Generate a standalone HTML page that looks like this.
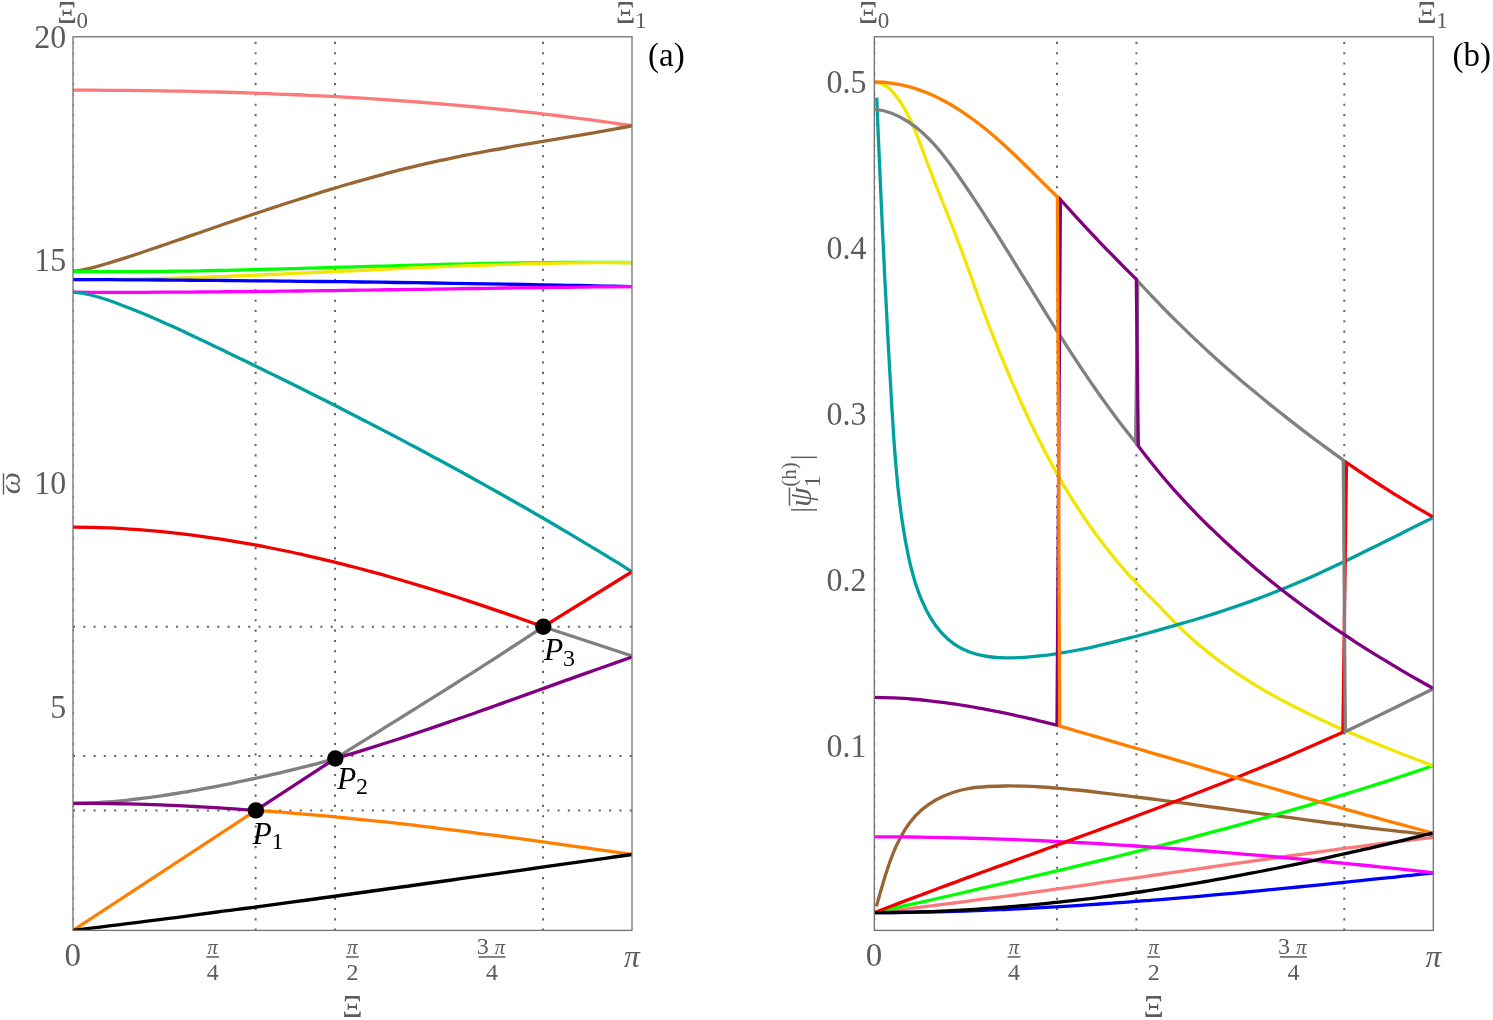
<!DOCTYPE html>
<html lang="en"><head><meta charset="utf-8"><title>Dispersion curves</title>
<style>html,body{margin:0;padding:0;background:#fff}svg{display:block}text{font-family:"Liberation Serif","DejaVu Serif",serif;fill:#5c5c5c}.i{font-style:italic}.k{fill:#000}.c{fill:none;stroke-width:3.3;stroke-linejoin:miter;stroke-miterlimit:10;stroke-linecap:butt}.d{stroke:#666666;stroke-width:2;stroke-dasharray:2.1 8.211;fill:none}.f{fill:none;stroke:#707070;stroke-width:1.3}</style></head><body>
<svg width="1493" height="1020" viewBox="0 0 1493 1020">
<rect width="1493" height="1020" fill="#fff"/>
<clipPath id="c1"><rect x="73.0" y="36.8" width="559.0" height="893.6"/></clipPath>
<g clip-path="url(#c1)">
<path class="d" d="M73.0 930.7V36.8"/>
<path class="d" d="M255.6 930.7V36.8"/>
<path class="d" d="M335.0 930.7V36.8"/>
<path class="d" d="M543.0 930.7V36.8"/>
<path class="d" d="M72.9 626.7H632.0"/>
<path class="d" d="M72.9 756.1H632.0"/>
<path class="d" d="M72.9 810.4H632.0"/>
<path class="c" stroke="#f97b7b" d="M73.0 90.2C79.0 90.2 85.1 90.2 91.1 90.2C97.1 90.2 103.1 90.3 109.2 90.3C115.2 90.3 121.2 90.4 127.2 90.4C133.3 90.5 139.3 90.5 145.3 90.6C151.4 90.7 157.4 90.8 163.4 90.9C169.4 91.0 175.5 91.1 181.5 91.2C187.5 91.3 193.6 91.4 199.6 91.6C205.6 91.7 211.6 91.8 217.7 92.0C223.7 92.2 229.7 92.3 235.7 92.5C241.8 92.7 247.8 92.9 253.8 93.1C259.8 93.3 265.9 93.5 271.9 93.8C277.9 94.0 283.9 94.2 290.0 94.5C296.0 94.7 302.0 95.0 308.0 95.3C314.1 95.6 320.1 95.9 326.1 96.2C332.1 96.5 338.1 96.8 344.2 97.2C350.2 97.5 356.2 97.9 362.2 98.2C368.2 98.6 374.2 99.0 380.3 99.4C386.3 99.8 392.3 100.2 398.3 100.6C404.3 101.0 410.3 101.5 416.3 101.9C422.3 102.4 428.3 102.8 434.4 103.3C440.4 103.8 446.4 104.3 452.4 104.8C458.4 105.4 464.4 105.9 470.4 106.5C476.4 107.0 482.4 107.6 488.4 108.2C494.4 108.8 500.4 109.4 506.4 110.0C512.4 110.6 518.4 111.2 524.4 111.9C530.3 112.5 536.3 113.2 542.3 113.9C548.3 114.6 554.3 115.3 560.3 116.0C566.3 116.8 572.3 117.5 578.2 118.3C584.2 119.1 590.2 119.8 596.2 120.6C602.1 121.4 608.1 122.3 614.1 123.1C620.1 124.0 626.0 124.8 632.0 125.7"/>
<path class="c" stroke="#996633" d="M73.0 271.5C79.0 270.7 84.9 269.5 90.8 268.1C96.6 266.7 102.4 265.1 108.1 263.3C113.9 261.6 119.6 259.7 125.4 257.9C131.1 256.0 136.8 254.1 142.5 252.2C148.2 250.3 154.0 248.3 159.7 246.4C165.4 244.5 171.1 242.5 176.8 240.5C182.5 238.6 188.2 236.6 193.9 234.6C199.6 232.7 205.3 230.7 211.0 228.7C216.7 226.8 222.4 224.8 228.1 222.8C233.8 220.9 239.5 218.9 245.2 217.0C251.0 215.1 256.7 213.1 262.4 211.2C268.1 209.3 273.9 207.4 279.6 205.5C285.3 203.7 291.1 201.8 296.8 200.0C302.6 198.1 308.3 196.3 314.1 194.5C319.8 192.7 325.6 190.9 331.4 189.2C337.1 187.4 342.9 185.7 348.7 184.0C354.5 182.3 360.3 180.7 366.1 179.1C371.9 177.4 377.7 175.8 383.5 174.3C389.3 172.7 395.2 171.2 401.0 169.7C406.8 168.3 412.7 166.8 418.6 165.4C424.4 164.0 430.3 162.7 436.2 161.4C442.1 160.0 448.0 158.8 453.9 157.6C459.8 156.3 465.7 155.2 471.6 154.0C477.5 152.9 483.5 151.8 489.4 150.7C495.3 149.6 501.3 148.5 507.2 147.5C513.2 146.4 519.1 145.4 525.1 144.4C531.0 143.4 537.0 142.4 542.9 141.4C548.9 140.4 554.8 139.4 560.8 138.4C566.7 137.4 572.7 136.4 578.6 135.4C584.6 134.4 590.5 133.3 596.5 132.3C602.4 131.2 608.3 130.2 614.3 129.1C620.2 128.0 626.1 126.9 632.0 125.7"/>
<path class="c" stroke="#00ff00" d="M73.0 271.5C79.0 271.6 85.0 271.6 91.0 271.6C97.1 271.7 103.1 271.7 109.1 271.7C115.1 271.7 121.1 271.7 127.1 271.7C133.1 271.6 139.1 271.6 145.1 271.6C151.2 271.5 157.2 271.4 163.2 271.4C169.2 271.3 175.2 271.2 181.2 271.1C187.2 271.1 193.2 271.0 199.3 270.8C205.3 270.7 211.3 270.6 217.3 270.5C223.3 270.4 229.3 270.2 235.3 270.1C241.3 270.0 247.3 269.8 253.3 269.7C259.4 269.5 265.4 269.4 271.4 269.2C277.4 269.1 283.4 268.9 289.4 268.7C295.4 268.6 301.4 268.4 307.4 268.2C313.4 268.1 319.5 267.9 325.5 267.7C331.5 267.5 337.5 267.4 343.5 267.2C349.5 267.0 355.5 266.8 361.5 266.7C367.5 266.5 373.5 266.3 379.6 266.1C385.6 266.0 391.6 265.8 397.6 265.6C403.6 265.4 409.6 265.3 415.6 265.1C421.6 265.0 427.6 264.8 433.6 264.6C439.6 264.5 445.7 264.3 451.7 264.2C457.7 264.0 463.7 263.9 469.7 263.8C475.7 263.6 481.7 263.5 487.7 263.4C493.7 263.3 499.7 263.2 505.8 263.1C511.8 263.0 517.8 262.9 523.8 262.8C529.8 262.7 535.8 262.6 541.8 262.6C547.8 262.5 553.8 262.5 559.9 262.4C565.9 262.4 571.9 262.4 577.9 262.4C583.9 262.3 589.9 262.3 595.9 262.4C601.9 262.4 608.0 262.4 614.0 262.4C620.0 262.5 626.0 262.5 632.0 262.6"/>
<path class="c" stroke="#f2e600" d="M73.0 279.6C79.0 279.6 85.0 279.6 91.0 279.6C97.1 279.5 103.1 279.5 109.1 279.4C115.1 279.3 121.1 279.3 127.1 279.2C133.1 279.1 139.2 278.9 145.2 278.8C151.2 278.7 157.2 278.5 163.2 278.4C169.2 278.2 175.2 278.1 181.2 277.9C187.2 277.7 193.3 277.5 199.3 277.3C205.3 277.1 211.3 276.9 217.3 276.7C223.3 276.5 229.3 276.2 235.3 276.0C241.3 275.8 247.3 275.5 253.4 275.3C259.4 275.0 265.4 274.8 271.4 274.5C277.4 274.2 283.4 274.0 289.4 273.7C295.4 273.4 301.4 273.1 307.4 272.9C313.4 272.6 319.4 272.3 325.5 272.0C331.5 271.7 337.5 271.5 343.5 271.2C349.5 270.9 355.5 270.6 361.5 270.3C367.5 270.1 373.5 269.8 379.5 269.5C385.5 269.2 391.5 268.9 397.6 268.7C403.6 268.4 409.6 268.1 415.6 267.9C421.6 267.6 427.6 267.3 433.6 267.1C439.6 266.8 445.6 266.6 451.6 266.3C457.6 266.1 463.6 265.9 469.7 265.7C475.7 265.4 481.7 265.2 487.7 265.0C493.7 264.8 499.7 264.6 505.7 264.4C511.7 264.3 517.7 264.1 523.8 263.9C529.8 263.8 535.8 263.6 541.8 263.5C547.8 263.4 553.8 263.2 559.8 263.1C565.8 263.0 571.8 262.9 577.9 262.9C583.9 262.8 589.9 262.7 595.9 262.7C601.9 262.7 607.9 262.6 614.0 262.6C620.0 262.6 626.0 262.7 632.0 262.7"/>
<path class="c" stroke="#0000ff" d="M73.0 279.6C79.0 279.6 85.0 279.6 91.0 279.7C97.0 279.7 103.1 279.7 109.1 279.7C115.1 279.8 121.1 279.8 127.1 279.8C133.1 279.9 139.1 279.9 145.1 279.9C151.1 280.0 157.2 280.0 163.2 280.0C169.2 280.1 175.2 280.1 181.2 280.2C187.2 280.2 193.2 280.3 199.2 280.3C205.2 280.3 211.3 280.4 217.3 280.4C223.3 280.5 229.3 280.5 235.3 280.6C241.3 280.6 247.3 280.7 253.3 280.8C259.3 280.8 265.4 280.9 271.4 280.9C277.4 281.0 283.4 281.1 289.4 281.1C295.4 281.2 301.4 281.3 307.4 281.3C313.4 281.4 319.5 281.5 325.5 281.5C331.5 281.6 337.5 281.7 343.5 281.7C349.5 281.8 355.5 281.9 361.5 282.0C367.5 282.0 373.6 282.1 379.6 282.2C385.6 282.3 391.6 282.4 397.6 282.5C403.6 282.5 409.6 282.6 415.6 282.7C421.6 282.8 427.6 282.9 433.7 283.0C439.7 283.1 445.7 283.2 451.7 283.3C457.7 283.4 463.7 283.5 469.7 283.6C475.7 283.7 481.7 283.8 487.8 283.9C493.8 284.0 499.8 284.1 505.8 284.2C511.8 284.3 517.8 284.4 523.8 284.5C529.8 284.6 535.8 284.7 541.8 284.8C547.9 284.9 553.9 285.0 559.9 285.1C565.9 285.3 571.9 285.4 577.9 285.5C583.9 285.6 589.9 285.7 595.9 285.9C601.9 286.0 608.0 286.1 614.0 286.2C620.0 286.3 626.0 286.5 632.0 286.6"/>
<path class="c" stroke="#ff00ff" d="M73.0 292.2C79.0 292.2 85.0 292.2 91.0 292.3C97.0 292.3 103.1 292.3 109.1 292.3C115.1 292.3 121.1 292.3 127.1 292.3C133.1 292.3 139.1 292.3 145.1 292.3C151.1 292.2 157.2 292.2 163.2 292.2C169.2 292.2 175.2 292.1 181.2 292.1C187.2 292.1 193.2 292.0 199.2 292.0C205.2 291.9 211.3 291.9 217.3 291.8C223.3 291.8 229.3 291.7 235.3 291.7C241.3 291.6 247.3 291.6 253.3 291.5C259.3 291.4 265.4 291.4 271.4 291.3C277.4 291.2 283.4 291.2 289.4 291.1C295.4 291.0 301.4 291.0 307.4 290.9C313.4 290.8 319.4 290.7 325.5 290.6C331.5 290.6 337.5 290.5 343.5 290.4C349.5 290.3 355.5 290.2 361.5 290.1C367.5 290.1 373.5 290.0 379.6 289.9C385.6 289.8 391.6 289.7 397.6 289.6C403.6 289.5 409.6 289.4 415.6 289.3C421.6 289.3 427.6 289.2 433.6 289.1C439.7 289.0 445.7 288.9 451.7 288.8C457.7 288.7 463.7 288.6 469.7 288.5C475.7 288.5 481.7 288.4 487.7 288.3C493.8 288.2 499.8 288.1 505.8 288.0C511.8 287.9 517.8 287.9 523.8 287.8C529.8 287.7 535.8 287.6 541.8 287.6C547.8 287.5 553.9 287.4 559.9 287.3C565.9 287.3 571.9 287.2 577.9 287.1C583.9 287.1 589.9 287.0 595.9 286.9C601.9 286.9 608.0 286.8 614.0 286.8C620.0 286.7 626.0 286.6 632.0 286.6"/>
<path class="c" stroke="#00a0a0" d="M73.0 292.2C79.0 292.7 84.9 293.7 90.7 295.0C96.4 296.4 102.1 298.1 107.8 300.0C113.4 301.9 119.0 304.0 124.5 306.2C130.1 308.3 135.6 310.5 141.1 312.8C146.6 315.1 152.1 317.4 157.6 319.8C163.1 322.2 168.5 324.7 174.0 327.1C179.4 329.6 184.8 332.1 190.2 334.7C195.6 337.2 201.0 339.8 206.4 342.3C211.8 344.9 217.2 347.5 222.6 350.1C228.0 352.7 233.4 355.3 238.8 357.9C244.2 360.5 249.5 363.1 254.9 365.7C260.3 368.3 265.7 370.9 271.0 373.6C276.4 376.2 281.7 378.8 287.1 381.5C292.5 384.1 297.8 386.8 303.1 389.4C308.5 392.1 313.8 394.8 319.2 397.5C324.5 400.1 329.8 402.8 335.1 405.5C340.5 408.2 345.8 411.0 351.1 413.7C356.4 416.4 361.7 419.1 367.0 421.9C372.3 424.6 377.6 427.4 382.9 430.1C388.2 432.9 393.5 435.6 398.8 438.4C404.1 441.2 409.3 444.0 414.6 446.8C419.9 449.6 425.1 452.4 430.4 455.2C435.6 458.1 440.9 460.9 446.1 463.7C451.4 466.6 456.6 469.4 461.8 472.3C467.1 475.2 472.3 478.1 477.5 481.0C482.7 483.9 488.0 486.8 493.2 489.7C498.4 492.6 503.6 495.5 508.8 498.5C513.9 501.4 519.1 504.4 524.3 507.3C529.5 510.3 534.7 513.3 539.8 516.3C545.0 519.3 550.1 522.3 555.3 525.3C560.4 528.3 565.6 531.4 570.7 534.4C575.9 537.5 581.0 540.5 586.1 543.6C591.2 546.7 596.3 549.8 601.5 552.9C606.6 556.0 611.7 559.1 616.8 562.2C621.8 565.4 626.9 568.5 632.0 571.7"/>
<path class="c" stroke="#f20000" d="M73.0 527.1C79.0 527.1 84.9 527.2 90.9 527.3C96.8 527.5 102.8 527.7 108.7 527.9C114.6 528.2 120.6 528.5 126.5 528.9C132.5 529.2 138.4 529.7 144.3 530.1C150.3 530.6 156.2 531.2 162.1 531.7C168.1 532.3 174.0 533.0 179.9 533.6C185.8 534.3 191.7 535.1 197.6 535.8C203.5 536.6 209.4 537.5 215.3 538.3C221.2 539.2 227.1 540.1 233.0 541.1C238.9 542.1 244.8 543.1 250.7 544.2C256.5 545.2 262.4 546.3 268.3 547.5C274.1 548.6 280.0 549.8 285.8 551.0C291.7 552.2 297.5 553.5 303.4 554.8C309.2 556.1 315.0 557.5 320.8 558.8C326.7 560.2 332.5 561.6 338.3 563.1C344.1 564.5 349.9 566.0 355.7 567.5C361.4 569.0 367.2 570.6 373.0 572.2C378.8 573.7 384.5 575.3 390.3 577.0C396.0 578.6 401.8 580.3 407.5 582.0C413.3 583.7 419.0 585.4 424.7 587.1C430.4 588.9 436.1 590.6 441.8 592.4C447.5 594.2 453.2 596.0 458.9 597.8C464.6 599.7 470.2 601.5 475.9 603.4C481.6 605.3 487.2 607.2 492.8 609.1C498.5 611.0 504.1 612.9 509.7 614.9C515.3 616.8 521.0 618.8 526.5 620.7C532.1 622.7 537.7 624.7 543.3 626.7L543.3 626.7L632.0 571.7"/>
<path class="c" stroke="#808080" d="M73.0 803.3C78.9 803.3 84.8 803.2 90.7 802.9C96.6 802.7 102.5 802.3 108.4 801.9C114.3 801.5 120.2 800.9 126.1 800.3C132.0 799.7 137.9 799.0 143.8 798.2C149.7 797.5 155.6 796.6 161.5 795.8C167.3 794.9 173.2 794.0 179.1 793.0C184.9 792.1 190.8 791.1 196.6 790.1C202.5 789.0 208.3 787.9 214.2 786.8C220.0 785.7 225.8 784.6 231.7 783.4C237.5 782.2 243.3 781.0 249.1 779.7C254.9 778.5 260.7 777.2 266.5 775.9C272.2 774.6 278.0 773.3 283.8 771.9C289.5 770.6 295.3 769.2 301.0 767.7C306.8 766.3 312.5 764.8 318.2 763.3C323.9 761.7 329.6 760.1 335.3 758.5L335.3 758.5C340.3 755.4 345.2 752.3 350.2 749.2C355.2 746.1 360.2 743.0 365.2 739.9C370.1 736.8 375.1 733.7 380.1 730.6C385.1 727.5 390.0 724.4 395.0 721.3C400.0 718.2 405.0 715.1 409.9 712.0C414.9 708.9 419.9 705.8 424.9 702.7C429.8 699.6 434.8 696.5 439.8 693.3C444.7 690.2 449.7 687.1 454.7 684.0C459.6 680.8 464.6 677.7 469.5 674.6C474.5 671.4 479.4 668.3 484.3 665.1C489.3 661.9 494.2 658.8 499.1 655.6C504.1 652.4 509.0 649.2 513.9 646.0C518.8 642.8 523.7 639.6 528.6 636.4C533.5 633.2 538.4 629.9 543.3 626.7L543.3 626.7L632.0 655.9"/>
<path class="c" stroke="#800080" d="M73.0 803.3C79.1 803.3 85.2 803.3 91.3 803.4C97.4 803.4 103.5 803.5 109.6 803.6C115.7 803.7 121.8 803.8 127.9 803.9C134.0 804.1 140.1 804.2 146.2 804.4C152.3 804.6 158.4 804.8 164.5 805.1C170.6 805.3 176.7 805.6 182.8 805.9C188.9 806.1 195.0 806.5 201.1 806.8C207.2 807.1 213.3 807.5 219.4 807.8C225.5 808.2 231.6 808.6 237.6 809.1C243.7 809.5 249.8 809.9 255.9 810.4L255.9 810.4L335.3 758.5L335.3 758.5C341.2 756.8 347.1 755.0 353.0 753.3C358.9 751.5 364.8 749.7 370.6 747.9C376.5 746.0 382.4 744.2 388.2 742.3C394.1 740.4 399.9 738.5 405.8 736.6C411.6 734.7 417.4 732.8 423.3 730.8C429.1 728.8 434.9 726.9 440.7 724.9C446.5 722.9 452.4 720.9 458.2 718.8C464.0 716.8 469.8 714.8 475.6 712.7C481.4 710.7 487.2 708.6 493.0 706.6C498.8 704.5 504.5 702.4 510.3 700.4C516.1 698.3 521.9 696.2 527.7 694.1C533.5 692.0 539.3 690.0 545.1 687.9C550.8 685.8 556.6 683.7 562.4 681.6C568.2 679.6 574.0 677.5 579.8 675.4C585.6 673.4 591.4 671.3 597.2 669.3C603.0 667.2 608.8 665.2 614.6 663.1C620.4 661.1 626.2 659.1 632.0 657.1"/>
<path class="c" stroke="#ff8000" d="M73.0 930.4L255.9 810.4L255.9 810.4C261.9 810.8 267.9 811.2 273.9 811.7C279.9 812.1 285.9 812.6 291.9 813.1C297.9 813.6 303.9 814.1 309.8 814.6C315.8 815.1 321.8 815.7 327.8 816.2C333.8 816.8 339.8 817.4 345.8 818.0C351.7 818.6 357.7 819.2 363.7 819.8C369.7 820.4 375.7 821.0 381.6 821.7C387.6 822.3 393.6 823.0 399.6 823.7C405.5 824.3 411.5 825.0 417.5 825.7C423.5 826.4 429.4 827.1 435.4 827.9C441.4 828.6 447.3 829.3 453.3 830.1C459.3 830.8 465.2 831.6 471.2 832.3C477.2 833.1 483.1 833.9 489.1 834.6C495.0 835.4 501.0 836.2 507.0 837.0C512.9 837.8 518.9 838.6 524.8 839.4C530.8 840.2 536.8 841.0 542.7 841.9C548.7 842.7 554.6 843.5 560.6 844.3C566.5 845.2 572.5 846.0 578.4 846.9C584.4 847.7 590.3 848.5 596.3 849.4C602.2 850.2 608.2 851.1 614.2 851.9C620.1 852.8 626.1 853.6 632.0 854.5"/>
<path class="c" stroke="#000000" d="M73.0 930.4C79.0 929.7 85.0 928.9 91.1 928.2C97.1 927.4 103.1 926.7 109.1 925.9C115.1 925.2 121.2 924.4 127.2 923.7C133.2 922.9 139.2 922.2 145.2 921.4C151.3 920.6 157.3 919.9 163.3 919.1C169.3 918.3 175.3 917.5 181.3 916.8C187.4 916.0 193.4 915.2 199.4 914.4C205.4 913.6 211.4 912.8 217.4 912.0C223.4 911.3 229.5 910.5 235.5 909.7C241.5 908.9 247.5 908.1 253.5 907.3C259.5 906.5 265.5 905.6 271.5 904.8C277.6 904.0 283.6 903.2 289.6 902.4C295.6 901.6 301.6 900.8 307.6 900.0C313.6 899.1 319.6 898.3 325.6 897.5C331.6 896.7 337.7 895.8 343.7 895.0C349.7 894.2 355.7 893.4 361.7 892.5C367.7 891.7 373.7 890.9 379.7 890.0C385.7 889.2 391.7 888.4 397.7 887.5C403.8 886.7 409.8 885.9 415.8 885.0C421.8 884.2 427.8 883.3 433.8 882.5C439.8 881.7 445.8 880.8 451.8 880.0C457.8 879.1 463.8 878.3 469.8 877.4C475.8 876.6 481.8 875.7 487.9 874.9C493.9 874.0 499.9 873.2 505.9 872.3C511.9 871.5 517.9 870.6 523.9 869.8C529.9 868.9 535.9 868.1 541.9 867.2C547.9 866.4 553.9 865.5 559.9 864.7C565.9 863.8 571.9 863.0 577.9 862.1C584.0 861.3 590.0 860.4 596.0 859.6C602.0 858.7 608.0 857.9 614.0 857.0C620.0 856.2 626.0 855.3 632.0 854.5"/>
</g>
<rect class="f" x="73.0" y="36.8" width="559.0" height="893.6"/>
<clipPath id="c2"><rect x="874.3" y="36.8" width="559.0" height="893.6"/></clipPath>
<g clip-path="url(#c2)">
<path class="d" d="M874.3 930.7V36.8"/>
<path class="d" d="M1057.0 930.7V36.8"/>
<path class="d" d="M1136.4 930.7V36.8"/>
<path class="d" d="M1344.3 930.7V36.8"/>
<path class="c" stroke="#f97b7b" d="M874.3 912.7C880.3 912.0 886.3 911.3 892.4 910.6C898.4 909.9 904.4 909.2 910.4 908.4C916.4 907.7 922.4 907.0 928.5 906.2C934.5 905.5 940.5 904.7 946.5 903.9C952.5 903.2 958.5 902.4 964.5 901.6C970.5 900.8 976.5 900.0 982.6 899.2C988.6 898.4 994.6 897.6 1000.6 896.8C1006.6 896.0 1012.6 895.2 1018.6 894.4C1024.6 893.6 1030.6 892.7 1036.6 891.9C1042.6 891.1 1048.6 890.2 1054.6 889.4C1060.6 888.6 1066.6 887.7 1072.6 886.9C1078.6 886.0 1084.6 885.2 1090.6 884.3C1096.6 883.5 1102.6 882.6 1108.6 881.7C1114.6 880.9 1120.6 880.0 1126.6 879.2C1132.6 878.3 1138.6 877.4 1144.6 876.6C1150.6 875.7 1156.6 874.8 1162.6 874.0C1168.6 873.1 1174.6 872.2 1180.6 871.4C1186.6 870.5 1192.6 869.6 1198.6 868.8C1204.6 867.9 1210.6 867.1 1216.6 866.2C1222.6 865.3 1228.6 864.5 1234.6 863.6C1240.6 862.8 1246.6 861.9 1252.6 861.1C1258.6 860.2 1264.6 859.4 1270.6 858.6C1276.6 857.7 1282.6 856.9 1288.6 856.0C1294.6 855.2 1300.6 854.4 1306.6 853.6C1312.6 852.7 1318.6 851.9 1324.6 851.1C1330.6 850.3 1336.6 849.5 1342.6 848.7C1348.6 847.9 1354.6 847.1 1360.6 846.4C1366.6 845.6 1372.7 844.8 1378.7 844.0C1384.7 843.3 1390.7 842.5 1396.7 841.8C1402.7 841.0 1408.7 840.3 1414.7 839.6C1420.8 838.8 1426.8 838.1 1432.8 837.4"/>
<path class="c" stroke="#996633" d="M876.3 906.4C877.9 901.1 879.4 895.5 881.1 889.8C882.7 884.0 884.4 878.2 886.3 872.4C888.2 866.5 890.2 860.7 892.5 854.9C894.7 849.2 897.2 843.6 900.1 838.3C902.9 832.9 906.0 827.8 909.5 823.1C913.1 818.4 917.0 814.0 921.4 810.1C925.8 806.3 930.7 802.9 935.8 800.0C941.0 797.1 946.5 794.6 952.1 792.7C957.8 790.7 963.6 789.3 969.5 788.3C975.5 787.4 981.5 786.9 987.5 786.5C993.5 786.2 999.5 786.0 1005.4 786.0C1011.4 785.9 1017.4 786.0 1023.4 786.2C1029.4 786.3 1035.3 786.6 1041.3 787.0C1047.3 787.4 1053.2 787.8 1059.2 788.3C1065.1 788.8 1071.1 789.4 1077.0 790.0C1083.0 790.6 1088.9 791.3 1094.8 792.0C1100.8 792.7 1106.7 793.4 1112.7 794.1C1118.6 794.8 1124.5 795.5 1130.5 796.3C1136.4 797.0 1142.3 797.8 1148.3 798.5C1154.2 799.3 1160.1 800.0 1166.0 800.8C1172.0 801.6 1177.9 802.4 1183.8 803.2C1189.7 804.0 1195.7 804.8 1201.6 805.6C1207.5 806.4 1213.4 807.2 1219.4 808.0C1225.3 808.8 1231.2 809.6 1237.1 810.4C1243.0 811.3 1249.0 812.1 1254.9 812.9C1260.8 813.7 1266.7 814.5 1272.6 815.3C1278.6 816.1 1284.5 816.9 1290.4 817.7C1296.3 818.5 1302.2 819.3 1308.2 820.1C1314.1 820.9 1320.0 821.7 1325.9 822.5C1331.9 823.2 1337.8 824.0 1343.7 824.7C1349.7 825.5 1355.6 826.2 1361.5 827.0C1367.4 827.7 1373.4 828.4 1379.3 829.1C1385.3 829.8 1391.2 830.5 1397.1 831.2C1403.1 831.9 1409.0 832.5 1415.0 833.1C1420.9 833.8 1426.8 834.4 1432.8 835.0"/>
<path class="c" stroke="#00ff00" d="M874.3 912.7C880.2 911.4 886.0 910.0 891.9 908.7C897.8 907.4 903.6 906.1 909.5 904.7C915.4 903.4 921.2 902.1 927.1 900.8C933.0 899.4 938.9 898.1 944.7 896.8C950.6 895.4 956.5 894.1 962.3 892.8C968.2 891.4 974.1 890.1 979.9 888.7C985.8 887.4 991.7 886.1 997.5 884.7C1003.4 883.4 1009.3 882.0 1015.1 880.6C1021.0 879.3 1026.9 877.9 1032.7 876.5C1038.6 875.2 1044.4 873.8 1050.3 872.4C1056.2 871.0 1062.0 869.7 1067.9 868.3C1073.7 866.9 1079.6 865.5 1085.4 864.1C1091.3 862.7 1097.1 861.2 1103.0 859.8C1108.8 858.4 1114.7 857.0 1120.5 855.5C1126.4 854.1 1132.2 852.6 1138.1 851.2C1143.9 849.7 1149.7 848.3 1155.6 846.8C1161.4 845.3 1167.3 843.8 1173.1 842.3C1178.9 840.8 1184.7 839.3 1190.6 837.8C1196.4 836.3 1202.2 834.8 1208.0 833.2C1213.8 831.7 1219.7 830.1 1225.5 828.6C1231.3 827.0 1237.1 825.4 1242.9 823.8C1248.7 822.2 1254.5 820.6 1260.3 819.0C1266.1 817.4 1271.9 815.8 1277.7 814.1C1283.5 812.5 1289.2 810.8 1295.0 809.2C1300.8 807.5 1306.6 805.8 1312.3 804.1C1318.1 802.4 1323.9 800.7 1329.6 798.9C1335.4 797.2 1341.2 795.4 1346.9 793.7C1352.7 791.9 1358.4 790.1 1364.2 788.3C1369.9 786.5 1375.6 784.7 1381.4 782.9C1387.1 781.0 1392.8 779.2 1398.5 777.3C1404.3 775.4 1410.0 773.5 1415.7 771.6C1421.4 769.7 1427.1 767.8 1432.8 765.8"/>
<path class="c" stroke="#f2e600" d="M874.3 82.0C880.1 82.3 885.5 85.1 890.0 89.2C894.4 93.2 898.1 98.4 901.4 103.5C904.7 108.6 907.6 113.9 910.2 119.4C912.8 124.9 915.1 130.5 917.3 136.1C919.5 141.8 921.6 147.5 923.7 153.2C925.8 158.9 927.9 164.6 930.1 170.2C932.3 175.9 934.5 181.5 936.7 187.1C939.0 192.7 941.2 198.3 943.4 204.0C945.7 209.6 947.9 215.2 950.1 220.8C952.4 226.4 954.6 232.1 956.7 237.7C958.9 243.4 961.0 249.0 963.1 254.7C965.2 260.4 967.2 266.1 969.3 271.8C971.3 277.5 973.4 283.2 975.4 288.9C977.5 294.6 979.5 300.3 981.6 306.0C983.7 311.7 985.9 317.3 988.0 323.0C990.2 328.6 992.4 334.3 994.6 339.9C996.8 345.5 999.1 351.1 1001.4 356.7C1003.7 362.3 1006.1 367.9 1008.4 373.5C1010.8 379.0 1013.2 384.6 1015.7 390.1C1018.1 395.7 1020.6 401.2 1023.1 406.7C1025.6 412.2 1028.2 417.7 1030.8 423.1C1033.4 428.6 1036.1 434.0 1038.8 439.5C1041.5 444.9 1044.3 450.2 1047.2 455.6C1050.0 460.9 1052.9 466.3 1055.8 471.5C1058.8 476.8 1061.8 482.0 1064.9 487.3C1068.0 492.5 1071.2 497.6 1074.4 502.7C1077.7 507.8 1081.0 512.9 1084.4 517.9C1087.8 522.9 1091.3 527.9 1094.8 532.8C1098.4 537.7 1102.1 542.6 1105.8 547.3C1109.5 552.1 1113.3 556.8 1117.2 561.5C1121.1 566.1 1125.1 570.7 1129.1 575.2C1133.2 579.6 1137.3 584.0 1141.5 588.3C1145.7 592.7 1150.0 596.9 1154.2 601.2C1158.5 605.5 1162.7 609.9 1167.0 614.3C1171.2 618.7 1175.4 623.1 1179.8 627.3C1184.1 631.6 1188.6 635.7 1193.1 639.7C1197.6 643.8 1202.3 647.7 1207.0 651.4C1211.7 655.2 1216.5 658.9 1221.3 662.5C1226.2 666.0 1231.2 669.5 1236.2 672.9C1241.2 676.2 1246.3 679.5 1251.4 682.7C1256.5 685.9 1261.7 689.0 1267.0 692.0C1272.2 695.0 1277.5 697.9 1282.9 700.8C1288.2 703.6 1293.6 706.4 1299.1 709.1C1304.5 711.9 1309.9 714.5 1315.4 717.1C1320.9 719.7 1326.4 722.2 1331.9 724.7C1337.5 727.2 1343.0 729.6 1348.6 732.0C1354.1 734.4 1359.7 736.8 1365.3 739.1C1370.9 741.4 1376.5 743.7 1382.1 746.0C1387.7 748.2 1393.3 750.4 1398.9 752.7C1404.5 754.9 1410.2 757.1 1415.8 759.3C1421.5 761.4 1427.1 763.6 1432.8 765.8"/>
<path class="c" stroke="#0000ff" d="M874.3 912.7C880.3 912.7 886.3 912.6 892.4 912.6C898.4 912.5 904.4 912.4 910.4 912.4C916.4 912.3 922.5 912.1 928.5 912.0C934.5 911.9 940.5 911.7 946.5 911.6C952.5 911.4 958.6 911.2 964.6 911.0C970.6 910.8 976.6 910.6 982.6 910.4C988.7 910.1 994.7 909.9 1000.7 909.6C1006.7 909.4 1012.7 909.1 1018.7 908.8C1024.7 908.5 1030.8 908.2 1036.8 907.9C1042.8 907.6 1048.8 907.2 1054.8 906.9C1060.8 906.5 1066.8 906.2 1072.9 905.8C1078.9 905.4 1084.9 905.0 1090.9 904.6C1096.9 904.2 1102.9 903.8 1108.9 903.4C1114.9 903.0 1121.0 902.6 1127.0 902.1C1133.0 901.7 1139.0 901.2 1145.0 900.7C1151.0 900.3 1157.0 899.8 1163.0 899.3C1169.0 898.8 1175.0 898.3 1181.0 897.8C1187.0 897.3 1193.0 896.8 1199.0 896.3C1205.1 895.8 1211.1 895.2 1217.1 894.7C1223.1 894.2 1229.1 893.6 1235.1 893.1C1241.1 892.5 1247.1 892.0 1253.1 891.4C1259.1 890.8 1265.1 890.2 1271.1 889.7C1277.1 889.1 1283.1 888.5 1289.1 887.9C1295.1 887.3 1301.0 886.7 1307.0 886.1C1313.0 885.5 1319.0 884.9 1325.0 884.3C1331.0 883.7 1337.0 883.1 1343.0 882.5C1349.0 881.8 1355.0 881.2 1361.0 880.6C1367.0 880.0 1373.0 879.3 1378.9 878.7C1384.9 878.1 1390.9 877.5 1396.9 876.8C1402.9 876.2 1408.9 875.6 1414.9 874.9C1420.8 874.3 1426.8 873.6 1432.8 873.0"/>
<path class="c" stroke="#ff00ff" d="M874.3 836.8C880.3 836.8 886.3 836.8 892.4 836.9C898.4 836.9 904.4 837.0 910.4 837.0C916.4 837.1 922.5 837.2 928.5 837.3C934.5 837.4 940.5 837.5 946.5 837.6C952.5 837.7 958.6 837.9 964.6 838.0C970.6 838.2 976.6 838.4 982.6 838.5C988.7 838.7 994.7 838.9 1000.7 839.1C1006.7 839.3 1012.7 839.6 1018.7 839.8C1024.7 840.0 1030.8 840.3 1036.8 840.5C1042.8 840.8 1048.8 841.1 1054.8 841.4C1060.8 841.7 1066.9 842.0 1072.9 842.3C1078.9 842.6 1084.9 842.9 1090.9 843.2C1096.9 843.6 1102.9 843.9 1108.9 844.3C1115.0 844.6 1121.0 845.0 1127.0 845.4C1133.0 845.8 1139.0 846.2 1145.0 846.6C1151.0 847.0 1157.0 847.4 1163.0 847.8C1169.0 848.2 1175.0 848.7 1181.1 849.1C1187.1 849.5 1193.1 850.0 1199.1 850.5C1205.1 850.9 1211.1 851.4 1217.1 851.9C1223.1 852.4 1229.1 852.8 1235.1 853.3C1241.1 853.8 1247.1 854.3 1253.1 854.9C1259.1 855.4 1265.1 855.9 1271.1 856.4C1277.1 857.0 1283.1 857.5 1289.1 858.1C1295.1 858.6 1301.1 859.2 1307.1 859.7C1313.1 860.3 1319.1 860.9 1325.1 861.5C1331.0 862.0 1337.0 862.6 1343.0 863.2C1349.0 863.8 1355.0 864.4 1361.0 865.0C1367.0 865.6 1373.0 866.2 1379.0 866.9C1384.9 867.5 1390.9 868.1 1396.9 868.7C1402.9 869.4 1408.9 870.0 1414.9 870.7C1420.8 871.3 1426.8 871.9 1432.8 872.6"/>
<path class="c" stroke="#00a0a0" d="M876.7 97.6C877.0 103.6 877.2 109.7 877.5 115.7C877.7 121.7 878.0 127.7 878.2 133.8C878.5 139.8 878.7 145.8 879.0 151.8C879.3 157.9 879.5 163.9 879.8 169.9C880.1 176.0 880.3 182.0 880.6 188.0C880.9 194.1 881.1 200.1 881.4 206.1C881.7 212.2 882.0 218.2 882.2 224.2C882.5 230.2 882.8 236.3 883.1 242.3C883.4 248.3 883.7 254.4 884.0 260.4C884.2 266.4 884.5 272.5 884.8 278.5C885.1 284.5 885.4 290.6 885.8 296.6C886.1 302.6 886.4 308.7 886.7 314.7C887.0 320.7 887.3 326.7 887.6 332.8C888.0 338.8 888.3 344.8 888.6 350.9C889.0 356.9 889.3 362.9 889.6 368.9C890.0 375.0 890.3 381.0 890.7 387.0C891.0 393.0 891.4 399.1 891.7 405.1C892.1 411.1 892.5 417.1 892.9 423.2C893.2 429.2 893.6 435.2 894.0 441.2C894.5 447.2 894.9 453.3 895.4 459.3C895.9 465.3 896.4 471.3 897.0 477.3C897.5 483.3 898.1 489.3 898.8 495.3C899.5 501.3 900.3 507.2 901.1 513.2C901.9 519.2 902.8 525.2 903.8 531.1C904.7 537.1 905.8 543.0 907.0 549.0C908.1 554.9 909.4 560.8 910.8 566.7C912.3 572.6 913.9 578.4 915.7 584.2C917.6 589.9 919.7 595.6 922.1 601.1C924.5 606.7 927.2 612.1 930.3 617.3C933.4 622.6 936.9 627.6 940.9 632.1C944.9 636.7 949.3 640.7 954.3 644.1C959.2 647.5 964.5 650.2 970.1 652.3C975.6 654.3 981.5 655.7 987.4 656.5C993.4 657.4 999.4 657.8 1005.6 657.8C1011.7 657.9 1017.9 657.7 1024.0 657.3C1030.1 656.9 1036.1 656.3 1042.1 655.6C1048.2 655.0 1054.1 654.1 1060.1 653.2C1066.1 652.3 1072.0 651.2 1077.9 650.0C1083.8 648.9 1089.7 647.6 1095.5 646.3C1101.4 645.0 1107.2 643.6 1113.1 642.2C1118.9 640.7 1124.8 639.2 1130.6 637.7C1136.4 636.2 1142.2 634.6 1148.1 633.0C1153.9 631.4 1159.7 629.8 1165.5 628.2C1171.3 626.6 1177.1 624.9 1182.9 623.2C1188.7 621.5 1194.5 619.8 1200.3 618.0C1206.1 616.2 1211.8 614.4 1217.6 612.6C1223.3 610.7 1229.1 608.8 1234.8 606.9C1240.5 604.9 1246.2 602.9 1251.9 600.9C1257.6 598.8 1263.2 596.7 1268.8 594.5C1274.5 592.3 1280.1 590.1 1285.7 587.8C1291.3 585.5 1296.8 583.2 1302.3 580.8C1307.9 578.4 1313.4 575.9 1318.9 573.4C1324.4 570.9 1329.9 568.4 1335.3 565.8C1340.8 563.2 1346.2 560.6 1351.7 558.0C1357.1 555.4 1362.5 552.7 1367.9 550.0C1373.3 547.4 1378.8 544.7 1384.2 542.0C1389.6 539.3 1395.0 536.6 1400.4 533.9C1405.8 531.2 1411.2 528.5 1416.6 525.8C1422.0 523.1 1427.4 520.5 1432.8 517.8"/>
<path class="c" stroke="#f20000" d="M874.3 912.7C879.9 910.5 885.5 908.4 891.0 906.3C896.6 904.1 902.2 902.0 907.8 899.9C913.4 897.8 919.0 895.7 924.6 893.6C930.2 891.5 935.8 889.4 941.4 887.3C947.0 885.2 952.6 883.1 958.2 881.1C963.8 879.0 969.4 876.9 975.1 874.9C980.7 872.8 986.3 870.8 991.9 868.7C997.5 866.7 1003.1 864.6 1008.8 862.6C1014.4 860.6 1020.0 858.5 1025.6 856.5C1031.3 854.4 1036.9 852.4 1042.5 850.4C1048.1 848.3 1053.7 846.3 1059.4 844.2C1065.0 842.2 1070.6 840.2 1076.2 838.1C1081.8 836.1 1087.5 834.0 1093.1 832.0C1098.7 829.9 1104.3 827.9 1109.9 825.8C1115.5 823.7 1121.2 821.7 1126.8 819.6C1132.4 817.5 1138.0 815.4 1143.6 813.3C1149.2 811.3 1154.8 809.2 1160.4 807.0C1166.0 804.9 1171.6 802.8 1177.1 800.7C1182.7 798.6 1188.3 796.4 1193.9 794.3C1199.5 792.1 1205.0 790.0 1210.6 787.8C1216.2 785.6 1221.7 783.4 1227.3 781.2C1232.8 779.0 1238.4 776.8 1243.9 774.5C1249.5 772.3 1255.0 770.0 1260.5 767.8C1266.1 765.5 1271.6 763.2 1277.1 760.9C1282.6 758.6 1288.1 756.3 1293.6 753.9C1299.1 751.6 1304.6 749.2 1310.1 746.8C1315.6 744.4 1321.1 742.0 1326.5 739.6C1332.0 737.1 1337.5 734.7 1342.9 732.2L1346.5 462.5C1351.2 465.7 1355.8 468.9 1360.5 472.1C1365.2 475.3 1370.0 478.4 1374.7 481.5C1379.5 484.6 1384.2 487.6 1389.0 490.6C1393.8 493.7 1398.6 496.6 1403.5 499.6C1408.3 502.5 1413.2 505.4 1418.1 508.3C1423.0 511.2 1427.9 514.0 1432.8 516.8"/>
<path class="c" stroke="#808080" d="M874.3 109.4C880.2 109.6 886.1 111.0 891.7 113.2C897.4 115.3 902.8 118.2 907.8 121.5C912.9 124.7 917.6 128.3 922.0 132.2C926.5 136.2 930.6 140.4 934.6 144.8C938.6 149.2 942.4 153.9 946.0 158.7C949.7 163.4 953.2 168.3 956.6 173.3C960.1 178.2 963.5 183.2 966.9 188.2C970.2 193.2 973.6 198.2 976.9 203.2C980.2 208.2 983.5 213.2 986.7 218.3C990.0 223.3 993.2 228.4 996.4 233.4C999.6 238.5 1002.8 243.6 1005.9 248.6C1009.1 253.7 1012.3 258.8 1015.4 263.9C1018.6 269.0 1021.7 274.0 1024.8 279.1C1028.0 284.2 1031.1 289.3 1034.3 294.4C1037.4 299.5 1040.5 304.5 1043.7 309.6C1046.8 314.7 1050.0 319.7 1053.2 324.8C1056.4 329.8 1059.6 334.9 1062.8 339.9C1066.0 344.9 1069.2 349.9 1072.5 354.9C1075.8 359.9 1079.1 364.9 1082.4 369.9C1085.7 374.8 1089.1 379.8 1092.5 384.7C1095.9 389.6 1099.3 394.5 1102.8 399.4C1106.3 404.3 1109.8 409.1 1113.4 413.9C1117.0 418.8 1120.7 423.6 1124.3 428.3C1128.0 433.1 1131.8 437.8 1135.6 442.5L1137.8 281.0C1141.9 285.5 1146.0 290.0 1150.2 294.4C1154.4 298.8 1158.6 303.2 1162.8 307.5C1167.0 311.9 1171.3 316.2 1175.6 320.4C1179.9 324.7 1184.3 328.9 1188.7 333.1C1193.0 337.3 1197.4 341.5 1201.9 345.6C1206.3 349.8 1210.8 353.9 1215.3 357.9C1219.8 362.0 1224.4 366.0 1228.9 370.0C1233.5 374.0 1238.1 378.0 1242.7 381.9C1247.3 385.8 1252.0 389.7 1256.7 393.6C1261.3 397.5 1266.0 401.3 1270.8 405.1C1275.5 408.9 1280.2 412.7 1285.0 416.4C1289.8 420.2 1294.6 423.9 1299.4 427.6C1304.2 431.3 1309.0 435.0 1313.9 438.6C1318.8 442.2 1323.6 445.8 1328.5 449.4C1333.4 453.0 1338.4 456.6 1343.3 460.1L1345.3 731.6C1351.2 728.8 1357.0 726.0 1362.9 723.2C1368.7 720.4 1374.6 717.6 1380.4 714.8C1386.2 711.9 1392.1 709.1 1397.9 706.2C1403.7 703.4 1409.5 700.5 1415.4 697.6C1421.2 694.8 1427.0 691.9 1432.8 689.0"/>
<path class="c" stroke="#800080" d="M874.3 697.4C880.5 697.4 886.6 697.6 892.8 697.9C898.9 698.2 905.1 698.5 911.2 699.0C917.4 699.5 923.5 700.1 929.7 700.8C935.8 701.5 941.9 702.2 948.0 703.1C954.2 703.9 960.3 704.9 966.4 705.9C972.5 706.9 978.5 708.0 984.6 709.1C990.7 710.3 996.8 711.5 1002.8 712.7C1008.9 714.0 1014.9 715.3 1021.0 716.7C1027.0 718.0 1033.0 719.4 1039.0 720.8C1045.0 722.2 1051.0 723.6 1057.0 725.1L1060.4 199.5C1064.5 204.1 1068.6 208.6 1072.7 213.1C1076.8 217.7 1080.9 222.1 1085.1 226.6C1089.3 231.1 1093.5 235.5 1097.7 240.0C1101.9 244.4 1106.1 248.8 1110.4 253.2C1114.7 257.6 1119.0 261.9 1123.3 266.3C1127.6 270.6 1131.9 274.9 1136.3 279.2L1138.3 446.0C1142.0 450.9 1145.7 455.7 1149.5 460.5C1153.3 465.3 1157.2 470.0 1161.1 474.7C1165.0 479.4 1169.0 484.0 1173.0 488.6C1177.1 493.1 1181.2 497.7 1185.3 502.1C1189.5 506.6 1193.7 511.0 1197.9 515.3C1202.2 519.7 1206.5 524.0 1210.9 528.2C1215.2 532.5 1219.7 536.7 1224.1 540.8C1228.6 545.0 1233.1 549.1 1237.6 553.1C1242.2 557.1 1246.8 561.1 1251.4 565.1C1256.1 569.0 1260.8 572.9 1265.5 576.8C1270.2 580.7 1275.0 584.5 1279.8 588.2C1284.6 592.0 1289.4 595.7 1294.3 599.4C1299.2 603.0 1304.1 606.7 1309.0 610.2C1314.0 613.8 1319.0 617.4 1324.0 620.8C1329.0 624.3 1334.0 627.8 1339.1 631.2C1344.2 634.6 1349.2 638.0 1354.4 641.3C1359.5 644.6 1364.6 647.9 1369.8 651.1C1375.0 654.4 1380.2 657.6 1385.4 660.7C1390.6 663.9 1395.8 667.0 1401.1 670.1C1406.3 673.2 1411.6 676.3 1416.9 679.3C1422.2 682.3 1427.5 685.3 1432.8 688.2"/>
<path class="c" stroke="#ff8000" d="M874.3 82.0C880.5 82.0 886.7 82.4 892.7 83.3C898.8 84.2 904.8 85.5 910.7 87.1C916.6 88.8 922.4 90.9 928.1 93.3C933.8 95.6 939.4 98.3 944.8 101.3C950.2 104.2 955.5 107.4 960.7 110.8C965.9 114.2 970.9 117.7 975.9 121.5C980.8 125.2 985.6 129.0 990.4 133.0C995.1 137.0 999.8 141.1 1004.3 145.3C1008.9 149.5 1013.4 153.7 1017.9 158.0C1022.3 162.3 1026.8 166.7 1031.2 171.0C1035.6 175.4 1039.9 179.8 1044.3 184.1C1048.7 188.4 1053.0 192.7 1057.4 197.0L1059.7 726.2C1065.4 727.8 1071.0 729.4 1076.7 731.1C1082.3 732.7 1088.0 734.3 1093.6 735.9C1099.3 737.6 1104.9 739.2 1110.6 740.9C1116.2 742.5 1121.8 744.1 1127.5 745.8C1133.1 747.4 1138.8 749.1 1144.4 750.7C1150.1 752.4 1155.7 754.1 1161.3 755.7C1167.0 757.4 1172.6 759.0 1178.3 760.7C1183.9 762.3 1189.6 764.0 1195.2 765.7C1200.8 767.3 1206.5 769.0 1212.1 770.6C1217.8 772.3 1223.4 774.0 1229.0 775.6C1234.7 777.3 1240.3 778.9 1246.0 780.6C1251.6 782.2 1257.3 783.9 1262.9 785.5C1268.6 787.2 1274.2 788.8 1279.9 790.4C1285.5 792.1 1291.2 793.7 1296.8 795.3C1302.5 797.0 1308.1 798.6 1313.8 800.2C1319.4 801.8 1325.1 803.4 1330.7 805.0C1336.4 806.6 1342.0 808.2 1347.7 809.8C1353.4 811.4 1359.0 813.0 1364.7 814.6C1370.4 816.1 1376.0 817.7 1381.7 819.3C1387.4 820.8 1393.0 822.4 1398.7 823.9C1404.4 825.4 1410.1 827.0 1415.7 828.5C1421.4 830.0 1427.1 831.5 1432.8 833.0"/>
<path class="c" stroke="#000000" d="M874.3 912.7C880.4 912.7 886.4 912.6 892.5 912.5C898.6 912.4 904.7 912.3 910.7 912.2C916.8 912.0 922.9 911.8 928.9 911.6C935.0 911.4 941.1 911.1 947.2 910.8C953.2 910.5 959.3 910.2 965.4 909.9C971.4 909.5 977.5 909.1 983.5 908.7C989.6 908.3 995.7 907.9 1001.7 907.4C1007.8 906.9 1013.8 906.4 1019.9 905.9C1026.0 905.4 1032.0 904.8 1038.1 904.3C1044.1 903.7 1050.2 903.1 1056.2 902.4C1062.3 901.8 1068.3 901.1 1074.4 900.4C1080.4 899.7 1086.4 899.0 1092.5 898.3C1098.5 897.5 1104.6 896.8 1110.6 896.0C1116.6 895.2 1122.7 894.4 1128.7 893.5C1134.7 892.7 1140.7 891.8 1146.8 890.9C1152.8 890.0 1158.8 889.1 1164.8 888.2C1170.8 887.2 1176.9 886.3 1182.9 885.3C1188.9 884.3 1194.9 883.3 1200.9 882.3C1206.9 881.3 1212.9 880.2 1218.9 879.1C1224.9 878.1 1230.9 877.0 1236.9 875.9C1242.8 874.8 1248.8 873.6 1254.8 872.5C1260.8 871.3 1266.8 870.2 1272.7 869.0C1278.7 867.8 1284.7 866.6 1290.6 865.4C1296.6 864.2 1302.6 862.9 1308.5 861.7C1314.5 860.4 1320.4 859.1 1326.4 857.8C1332.3 856.6 1338.2 855.2 1344.2 853.9C1350.1 852.6 1356.0 851.3 1362.0 849.9C1367.9 848.6 1373.8 847.2 1379.7 845.8C1385.6 844.4 1391.5 843.0 1397.5 841.6C1403.4 840.2 1409.3 838.8 1415.1 837.3C1421.0 835.9 1426.9 834.5 1432.8 833.0"/>
</g>
<rect class="f" x="874.3" y="36.8" width="559.0" height="893.6"/>
<circle cx="255.9" cy="810.4" r="8.2" fill="#000"/>
<circle cx="335.3" cy="758.5" r="8.2" fill="#000"/>
<circle cx="543.3" cy="626.7" r="8.2" fill="#000"/>
<text x="252.6" y="843.5" font-size="31.5" text-anchor="start" class="i k">P</text>
<text x="271.6" y="848.8" font-size="24" text-anchor="start" class="k">1</text>
<text x="337.1" y="789.0" font-size="31.5" text-anchor="start" class="i k">P</text>
<text x="356.1" y="794.3" font-size="24" text-anchor="start" class="k">2</text>
<text x="543.9" y="660.3" font-size="31.5" text-anchor="start" class="i k">P</text>
<text x="562.9" y="665.6" font-size="24" text-anchor="start" class="k">3</text>
<text x="648.0" y="65.9" font-size="33" text-anchor="start" class="k">(a)</text>
<text x="1452.5" y="65.9" font-size="33" text-anchor="start" class="k">(b)</text>
<text transform="translate(66.2 47.6) scale(0.95 1)" font-size="33.6" text-anchor="end">20</text>
<text transform="translate(66.2 271.0) scale(0.95 1)" font-size="33.6" text-anchor="end">15</text>
<text transform="translate(66.2 494.4) scale(0.95 1)" font-size="33.6" text-anchor="end">10</text>
<text transform="translate(66.2 717.8) scale(0.95 1)" font-size="33.6" text-anchor="end">5</text>
<text transform="translate(866.4 92.5) scale(0.95 1)" font-size="33.6" text-anchor="end">0.5</text>
<text transform="translate(866.4 258.6) scale(0.95 1)" font-size="33.6" text-anchor="end">0.4</text>
<text transform="translate(866.4 424.8) scale(0.95 1)" font-size="33.6" text-anchor="end">0.3</text>
<text transform="translate(866.4 590.9) scale(0.95 1)" font-size="33.6" text-anchor="end">0.2</text>
<text transform="translate(866.4 757.1) scale(0.95 1)" font-size="33.6" text-anchor="end">0.1</text>
<text x="72.8" y="966.4" font-size="33" text-anchor="middle">0</text>
<g>
<text x="212.7" y="953.6" font-size="20.5" text-anchor="middle" class="i">π</text>
<rect x="206.3" y="956.2" width="12.8" height="1.5" fill="#5c5c5c"/>
<text x="212.7" y="980.0" font-size="24" text-anchor="middle">4</text>
</g>
<g>
<text x="352.4" y="953.6" font-size="20.5" text-anchor="middle" class="i">π</text>
<rect x="346.0" y="956.2" width="12.8" height="1.5" fill="#5c5c5c"/>
<text x="352.4" y="980.0" font-size="24" text-anchor="middle">2</text>
</g>
<g>
<text x="482.8" y="953.6" font-size="24" text-anchor="middle">3</text>
<text x="500.0" y="953.6" font-size="20.5" text-anchor="middle" class="i">π</text>
<rect x="478.6" y="956.2" width="27.0" height="1.5" fill="#5c5c5c"/>
<text x="492.1" y="980.0" font-size="24" text-anchor="middle">4</text>
</g>
<text x="632.0" y="966.8" font-size="31.5" text-anchor="middle" class="i">π</text>
<text x="352.4" y="1016.8" font-size="31.5" text-anchor="middle">Ξ</text>
<text x="57.3" y="22.5" font-size="30.5" text-anchor="start">Ξ</text>
<text x="76.4" y="28.4" font-size="23" text-anchor="start">0</text>
<text x="615.7" y="22.5" font-size="30.5" text-anchor="start">Ξ</text>
<text x="635.0" y="28.2" font-size="23" text-anchor="start">1</text>
<text x="874.1" y="966.4" font-size="33" text-anchor="middle">0</text>
<g>
<text x="1014.0" y="953.6" font-size="20.5" text-anchor="middle" class="i">π</text>
<rect x="1007.6" y="956.2" width="12.8" height="1.5" fill="#5c5c5c"/>
<text x="1014.0" y="980.0" font-size="24" text-anchor="middle">4</text>
</g>
<g>
<text x="1153.7" y="953.6" font-size="20.5" text-anchor="middle" class="i">π</text>
<rect x="1147.3" y="956.2" width="12.8" height="1.5" fill="#5c5c5c"/>
<text x="1153.7" y="980.0" font-size="24" text-anchor="middle">2</text>
</g>
<g>
<text x="1284.1" y="953.6" font-size="24" text-anchor="middle">3</text>
<text x="1301.3" y="953.6" font-size="20.5" text-anchor="middle" class="i">π</text>
<rect x="1279.9" y="956.2" width="27.0" height="1.5" fill="#5c5c5c"/>
<text x="1293.4" y="980.0" font-size="24" text-anchor="middle">4</text>
</g>
<text x="1433.3" y="966.8" font-size="31.5" text-anchor="middle" class="i">π</text>
<text x="1153.7" y="1016.8" font-size="31.5" text-anchor="middle">Ξ</text>
<text x="858.6" y="22.5" font-size="30.5" text-anchor="start">Ξ</text>
<text x="877.7" y="28.4" font-size="23" text-anchor="start">0</text>
<text x="1417.0" y="22.5" font-size="30.5" text-anchor="start">Ξ</text>
<text x="1436.3" y="28.2" font-size="23" text-anchor="start">1</text>
<g transform="translate(20.0 494.2) rotate(-90)">
<text transform="translate(0.0 0.0) scale(1.08 1)" font-size="29" text-anchor="start" class="i">ω</text>
<rect x="-0.4" y="-17.2" width="21.2" height="1.4" fill="#5c5c5c"/>
</g>
<g transform="translate(811.0 512.8) rotate(-90)">
<text x="0.0" y="0.0" font-size="29" text-anchor="start">|</text>
<text x="6.0" y="0.0" font-size="31" text-anchor="start" class="i">ψ</text>
<rect x="7.0" y="-22.2" width="18.2" height="1.4" fill="#5c5c5c"/>
<text x="25.5" y="8.8" font-size="24" text-anchor="start">1</text>
<text x="26.0" y="-14.7" font-size="21" text-anchor="start">(h)</text>
<text x="52.5" y="0.0" font-size="29" text-anchor="start">|</text>
</g>
</svg></body></html>
